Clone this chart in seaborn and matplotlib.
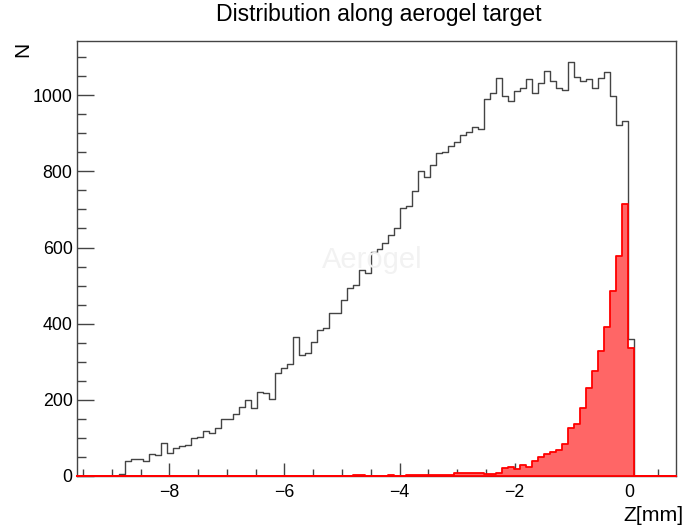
import numpy as np
import pandas as pd
import matplotlib
matplotlib.use("Agg")
import matplotlib.pyplot as plt
from matplotlib.ticker import MultipleLocator
import seaborn as sns

# ---------------- data ----------------
Z_MIN, Z_MAX, N_BINS = -9.6, 0.8, 100

black_first_bin = 7
black_counts = [5, 40, 44, 44, 40, 58, 55, 86, 61, 73,
                79, 81, 99, 103, 119, 112, 125, 151, 149, 163,
                180, 199, 178, 221, 219, 201, 271, 283,
                295, 366, 318, 324, 352, 383, 388, 429, 429, 462,
                493, 501, 541, 534, 589, 595, 612, 632,
                652, 704, 709, 749, 801, 786, 818, 847, 851, 867,
                876, 895, 904, 917, 911,
                991, 1006, 1045, 998, 984, 1010, 1020, 1042, 1006, 1031,
                1064, 1038, 1020, 1015, 1088, 1048, 1038, 1042, 1018, 1044,
                1061, 997, 921, 932, 360]

red_first_bin = 46
red_counts = [3, 3, 0, 0, 0, 0, 3, 0, 0, 2,
              2, 2, 2, 2, 2, 2, 2, 8, 7, 7,
              8, 8, 6, 6, 9, 20, 23, 18, 29, 24,
              39, 49, 57, 64, 68, 83, 125, 136, 179, 230,
              276, 329, 392, 486, 577, 714, 335]

x_major_ticks = [-8, -6, -4, -2, 0]
y_major_ticks = [0, 200, 400, 600, 800, 1000]

title = "Distribution along aerogel target"
xlabel = "Z[mm]"
ylabel = "N"
overlay_text = "Aerogel"

# ---------------- build tables ----------------
edges = list(np.linspace(Z_MIN, Z_MAX, N_BINS + 1))
centers = [0.5 * (edges[i] + edges[i + 1]) for i in range(N_BINS)]
black_full = np.zeros(N_BINS)
black_full[black_first_bin:black_first_bin + len(black_counts)] = black_counts
red_full = np.zeros(N_BINS)
red_full[red_first_bin:red_first_bin + len(red_counts)] = red_counts
df = pd.DataFrame({"z": centers, "all": black_full, "sel": red_full})

# ---------------- style ----------------
sns.set_theme(style="white")
plt.rcParams["font.family"] = ["Liberation Sans", "DejaVu Sans"]
plt.rcParams["axes.unicode_minus"] = True
plt.rcParams["text.color"] = "black"
plt.rcParams["axes.labelcolor"] = "black"
plt.rcParams["xtick.labelcolor"] = "black"
plt.rcParams["ytick.labelcolor"] = "black"

fig = plt.figure(figsize=(6.84, 5.31), dpi=100)
ax = fig.add_axes([77.3 / 684, 1 - 476 / 531, (675.7 - 77.3) / 684, (476 - 41) / 531])

sns.histplot(data=df, x="z", weights="all", bins=edges, element="step",
             fill=False, color="#444444", linewidth=1.0, ax=ax)
n_before = len(ax.collections)
sns.histplot(data=df, x="z", weights="sel", bins=edges, element="step",
             fill=True, facecolor="#ff6666", edgecolor="#ff0000",
             linewidth=1.3, ax=ax)
for coll in ax.collections[n_before:]:
    coll.set_zorder(3)
    coll.set_clip_on(False)

ax.set_xlim(Z_MIN, Z_MAX)
ax.set_ylim(0, 1.05 * max(black_counts))

ax.set_xticks(x_major_ticks)
ax.set_yticks(y_major_ticks)
ax.xaxis.set_minor_locator(MultipleLocator(0.5))
ax.yaxis.set_minor_locator(MultipleLocator(50))
ax.tick_params(axis="x", which="major", direction="in", length=9.5, width=1,
               color="#444444", labelcolor="black", labelsize=12.8, pad=5.5,
               top=False, bottom=True)
ax.tick_params(axis="x", which="minor", direction="in", length=4.8, width=1,
               color="#444444", top=False, bottom=True)
ax.tick_params(axis="y", which="major", direction="in", length=12.2, width=1,
               color="#444444", labelcolor="black", labelsize=12.8, pad=3.4,
               left=True, right=False)
ax.tick_params(axis="y", which="minor", direction="in", length=6.2, width=1,
               color="#444444", left=True, right=False)

for sp in ax.spines.values():
    sp.set_color("#444444")
    sp.set_linewidth(1.0)

ax.set_xlabel(xlabel, fontsize=15.3, loc="right", color="black")
ax.xaxis.set_label_coords(1.0 + 7.5 / 598.4, -0.07)
ax.set_ylabel(ylabel, fontsize=15, loc="top", color="black")
ax.yaxis.set_label_coords(-0.075, 0.998)

fig.text(379 / 684, 1 - 14 / 531, title, ha="center", va="center",
         fontsize=16.6, color="black")
fig.text(372 / 684, 1 - 260 / 531, overlay_text, ha="center", va="center",
         fontsize=21, color="#f2f2f2")

fig.savefig("out.png", dpi=100)
